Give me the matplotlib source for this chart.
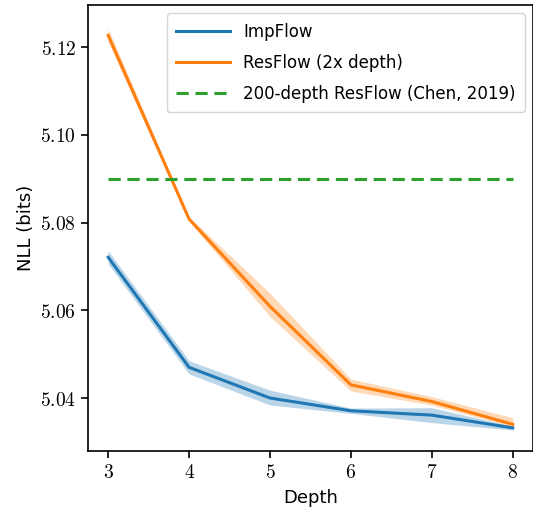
import matplotlib
matplotlib.use("Agg")
import matplotlib.pyplot as plt
from matplotlib.ticker import FuncFormatter

plt.rcParams['mathtext.fontset'] = 'cm'

depth = [3, 4, 5, 6, 7, 8]
imp_mean = [5.0721, 5.0470, 5.0400, 5.0371, 5.0361, 5.0332]
imp_low = [5.0706, 5.0455, 5.0384, 5.0365, 5.0344, 5.0327]
imp_high = [5.0736, 5.0485, 5.0418, 5.0377, 5.0378, 5.0336]
res_mean = [5.1227, 5.0808, 5.0609, 5.0430, 5.0392, 5.0340]
res_low = [5.1212, 5.0803, 5.0586, 5.0416, 5.0384, 5.0335]
res_high = [5.1242, 5.0813, 5.0639, 5.0443, 5.0403, 5.0355]
chen_value = 5.090

labels = ["ImpFlow", "ResFlow (2x depth)", "200-depth ResFlow (Chen, 2019)"]
yticks = [5.04, 5.06, 5.08, 5.10, 5.12]

fig = plt.figure(figsize=(5.33, 5.08), dpi=100)
ax = fig.add_axes([0.165, 0.112, 0.835, 0.878])

c_imp, c_res, c_chen = '#1f77b4', '#ff7f0e', '#2ca02c'
ax.fill_between(depth, imp_low, imp_high, color=c_imp, alpha=0.3, linewidth=0)
ax.plot(depth, imp_mean, color=c_imp, lw=2.2, label=labels[0])
ax.fill_between(depth, res_low, res_high, color=c_res, alpha=0.3, linewidth=0)
ax.plot(depth, res_mean, color=c_res, lw=2.2, label=labels[1])
ax.plot([depth[0], depth[-1]], [chen_value, chen_value], color=c_chen, lw=2.2,
        ls=(0, (4, 2.2)), label=labels[2])

ax.set_xlim(2.75, 8.25)
ax.set_ylim(5.0279, 5.1296)
ax.set_xticks(depth)
ax.set_yticks(yticks)
ax.xaxis.set_major_formatter(FuncFormatter(lambda v, p: r'$%d$' % v))
ax.yaxis.set_major_formatter(FuncFormatter(lambda v, p: r'$%.2f$' % v))
ax.tick_params(labelsize=14, length=5, width=1.2)
for s in ax.spines.values():
    s.set_linewidth(1.2)

ax.set_xlabel('Depth', fontsize=13, labelpad=5)
ax.set_ylabel('NLL (bits)', fontsize=13)
ax.legend(loc='upper right', fontsize=12, handlelength=3.2, labelspacing=0.8,
          framealpha=0.8, edgecolor='#cccccc', borderpad=0.55)

fig.savefig('out.png', dpi=100)
